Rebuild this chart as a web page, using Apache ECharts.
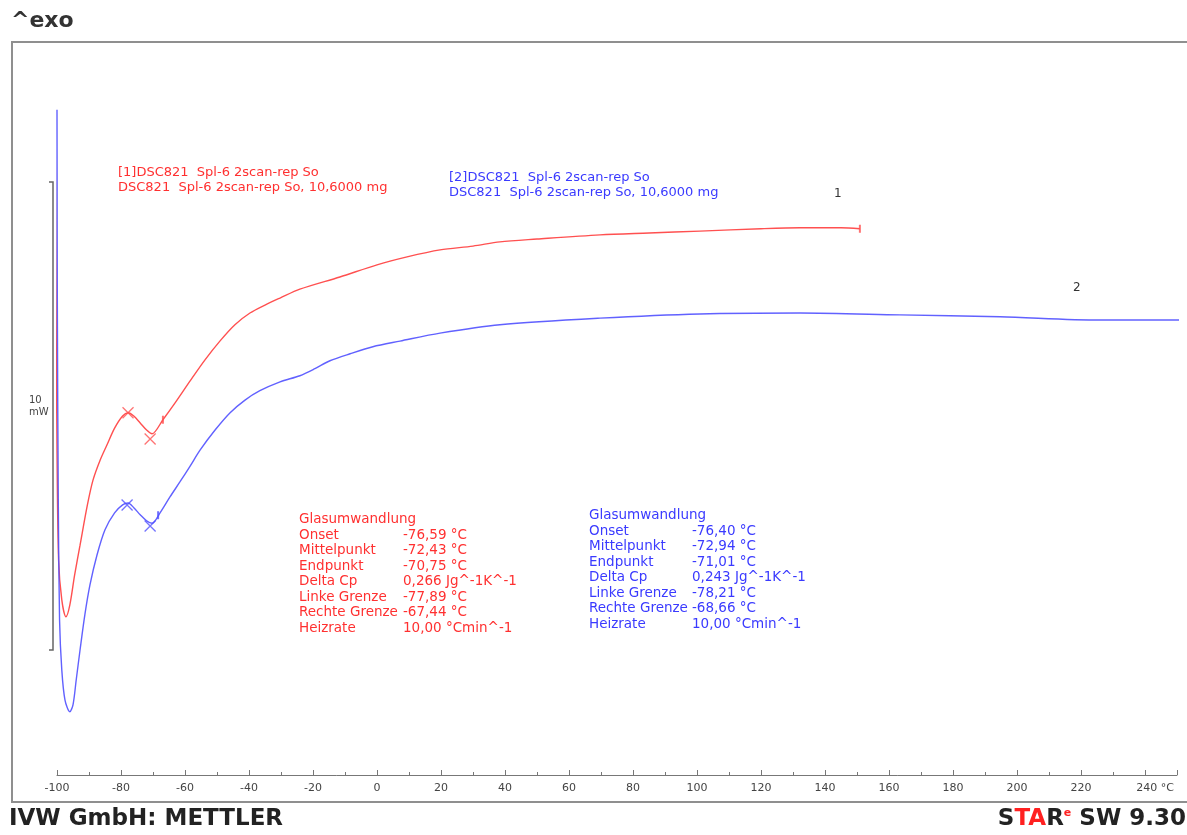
<!DOCTYPE html>
<html><head><meta charset="utf-8">
<script src="https://cdn.jsdelivr.net/npm/echarts@6/dist/echarts.min.js"></script>
<style>html,body{margin:0;padding:0;background:#fff}#c{width:1187px;height:835px}</style>
</head><body><div id="c"></div>
<script>
// Temperature (°C) and heat flow (mW, arbitrary offset)
const redT = [-100.6,-100.3,-100.0,-99.5,-98.5,-97.2,-96.0,-94.5,-92.8,-90.5,-88.75,-86.5,-84.4,-82,-79.5,-77.8,-76,-74,-72,-70.3,-66.9,-63.1,-58.4,-53.75,-49.1,-44.4,-39.7,-35,-30.3,-24.1,-11.6,0,9.4,19.7,30,38.4,50,69.7,85,100.9,120,132.2,145,150.9];
const redV = [14.25,10.15,6.94,4.59,3.74,3.38,3.63,4.27,4.91,5.77,6.30,6.73,7.05,7.41,7.67,7.74,7.67,7.52,7.37,7.29,7.59,7.95,8.42,8.87,9.27,9.62,9.87,10.04,10.19,10.38,10.64,10.90,11.07,11.22,11.30,11.39,11.45,11.54,11.58,11.62,11.67,11.69,11.69,11.67];
const blueT = [-100.0,-99.9,-99.6,-99.2,-98.5,-97.5,-96.0,-95.0,-94.0,-92.8,-91.3,-89.7,-87.5,-85,-82,-79.5,-77.8,-76,-74,-72,-70.3,-67.8,-64.7,-61.6,-58.4,-55.3,-50.6,-45.9,-41.25,-36.6,-30.3,-24.1,-19.4,-14.7,-8.4,-1.3,7.2,19.7,38.4,69.7,100.9,132.2,163.4,194.7,225.9,250.9];
const blueV = [14.21,10.15,5.88,3.31,2.24,1.60,1.35,1.50,2.03,2.67,3.42,4.06,4.70,5.24,5.60,5.77,5.81,5.71,5.56,5.43,5.38,5.60,5.94,6.26,6.60,6.94,7.37,7.74,8.01,8.21,8.40,8.53,8.68,8.85,9.00,9.15,9.27,9.44,9.62,9.76,9.85,9.87,9.83,9.79,9.72,9.72];
// Glass transition evaluation marks (T, mW)
const redMarksT = [-77.8,-70.9];
const redMarksV = [7.74,7.18];
const blueMarksT = [-78.1,-70.9];
const blueMarksV = [5.77,5.32];
// limit ticks on the curves
const redLimitT = [-66.9,150.9];
const redLimitV = [7.59,11.67];
const blueLimitT = [-68.4];
const blueLimitV = [5.55];
// 10 mW scale bar
const scaleBarT = -101.25;
const scaleBarV = [2.67,12.67];
const xTicks = [-100,-80,-60,-40,-20,0,20,40,60,80,100,120,140,160,180,200,220,240];

const labelsLeft = ['Glasumwandlung','Onset','Mittelpunkt','Endpunkt','Delta Cp','Linke Grenze','Rechte Grenze','Heizrate'];
const redVals = ['','-76,59 °C','-72,43 °C','-70,75 °C','0,266 Jg^-1K^-1','-77,89 °C','-67,44 °C','10,00 °Cmin^-1'];
const blueVals = ['','-76,40 °C','-72,94 °C','-71,01 °C','0,243 Jg^-1K^-1','-78,21 °C','-68,66 °C','10,00 °Cmin^-1'];

const zip = (a,b) => a.map((v,i)=>[v,b[i]]);
const RED = '#ff5050', BLUE = '#5050ff';
const RTXT = '#ff3030', BTXT = '#3a3aff';
const F = 'DejaVu Sans';

const chart = echarts.init(document.getElementById('c'), null, {renderer:'canvas'});
const cross = 'path://M0,0L10,10M10,0L0,10';

const graphics = [
  {type:'polyline', shape:{points:[[1187,42],[12,42],[12,802],[1187,802]]}, style:{stroke:'#8f8f8f', lineWidth:2, fill:null}},
  {type:'text', left:11, top:10, style:{text:'^exo', font:'bold 22px "DejaVu Sans"', fill:'#333'}},
  {type:'text', left:9, top:808, style:{text:'IVW GmbH: METTLER', font:'bold 23px "DejaVu Sans"', fill:'#222'}},
  {type:'text', right:1, top:808, style:{text:'{k|S}{r|TA}{k|R}{s|e}{k| SW 9.30}', rich:{
      k:{font:'bold 23px "DejaVu Sans"', fill:'#222'},
      r:{font:'bold 23px "DejaVu Sans"', fill:'#ff2020'},
      s:{font:'bold 11px "DejaVu Sans"', fill:'#ff2020', verticalAlign:'top', padding:[0,0,10,0]}}}},
  {type:'text', left:29, top:394, style:{text:'10\nmW', font:'10px "DejaVu Sans"', fill:'#444', lineHeight:12}},
  {type:'text', left:118, top:165, style:{text:'[1]DSC821  Spl-6 2scan-rep So\nDSC821  Spl-6 2scan-rep So, 10,6000 mg', font:'13px "DejaVu Sans"', fill:RTXT, lineHeight:15}},
  {type:'text', left:449, top:170, style:{text:'[2]DSC821  Spl-6 2scan-rep So\nDSC821  Spl-6 2scan-rep So, 10,6000 mg', font:'13px "DejaVu Sans"', fill:BTXT, lineHeight:15}},
  {type:'text', left:834, top:188, style:{text:'1', font:'12px "DejaVu Sans"', fill:'#333'}},
  {type:'text', left:1073, top:282, style:{text:'2', font:'12px "DejaVu Sans"', fill:'#333'}},
  {type:'text', left:299, top:512, style:{text:labelsLeft.join('\n'), font:'13.5px "DejaVu Sans"', fill:RTXT, lineHeight:15.5}},
  {type:'text', left:403, top:512, style:{text:redVals.join('\n'), font:'13.5px "DejaVu Sans"', fill:RTXT, lineHeight:15.5}},
  {type:'text', left:589, top:508, style:{text:labelsLeft.join('\n'), font:'13.5px "DejaVu Sans"', fill:BTXT, lineHeight:15.5}},
  {type:'text', left:692, top:508, style:{text:blueVals.join('\n'), font:'13.5px "DejaVu Sans"', fill:BTXT, lineHeight:15.5}}
];

chart.setOption({
  animation:false,
  backgroundColor:'#fff',
  grid:{left:57, right:10, top:42, bottom:60},
  xAxis:{type:'value', min:-100, max:250, interval:20,
    axisLine:{lineStyle:{color:'#777', width:1}},
    axisTick:{inside:true, length:5, lineStyle:{color:'#777'}},
    minorTick:{show:true, splitNumber:2, length:3, lineStyle:{color:'#777'}},
    splitLine:{show:false},
    axisLabel:{showMaxLabel:false, color:'#444', fontFamily:F, fontSize:11, margin:8,
      formatter: v => (xTicks.indexOf(v) < 0 ? '' : (v===240 ? '{p|}240 °C' : String(v))),
      rich:{p:{width:20}}}
  },
  yAxis:{type:'value', min:0, max:15.66, show:false},
  graphic: graphics,
  series:[
    {type:'line', data:zip(redT, redV), symbol:'none', smooth:0.3, clip:false, lineStyle:{color:RED, width:1.4}, z:2},
    {type:'line', data:zip(blueT, blueV), symbol:'none', smooth:0.3, clip:false, lineStyle:{color:BLUE, width:1.4, opacity:0.9}, z:3},
    {type:'scatter', data:zip(redMarksT, redMarksV), symbol:cross, symbolSize:11, clip:false, itemStyle:{color:'none', borderColor:RED, borderWidth:1.3}, z:4},
    {type:'scatter', data:zip(blueMarksT, blueMarksV), symbol:cross, symbolSize:11, clip:false, itemStyle:{color:'none', borderColor:BLUE, borderWidth:1.3}, z:4},
    {type:'scatter', data:zip(redLimitT, redLimitV), symbol:'rect', symbolSize:[2,8], clip:false, itemStyle:{color:RED}, z:4},
    {type:'scatter', data:zip(blueLimitT, blueLimitV), symbol:'rect', symbolSize:[2,8], clip:false, itemStyle:{color:BLUE}, z:4}
  ]
});

// 10 mW scale bar placed through the chart's own scales
const barTop = chart.convertToPixel({gridIndex:0}, [scaleBarT, scaleBarV[1]]);
const barBot = chart.convertToPixel({gridIndex:0}, [scaleBarT, scaleBarV[0]]);
chart.setOption({graphic: graphics.concat([
  {type:'polyline', shape:{points:[[barTop[0]-4, barTop[1]],[barTop[0], barTop[1]],[barBot[0], barBot[1]],[barBot[0]-4, barBot[1]]]},
   style:{stroke:'#666', lineWidth:1.5, fill:null}, z:1}
])});
</script></body></html>
